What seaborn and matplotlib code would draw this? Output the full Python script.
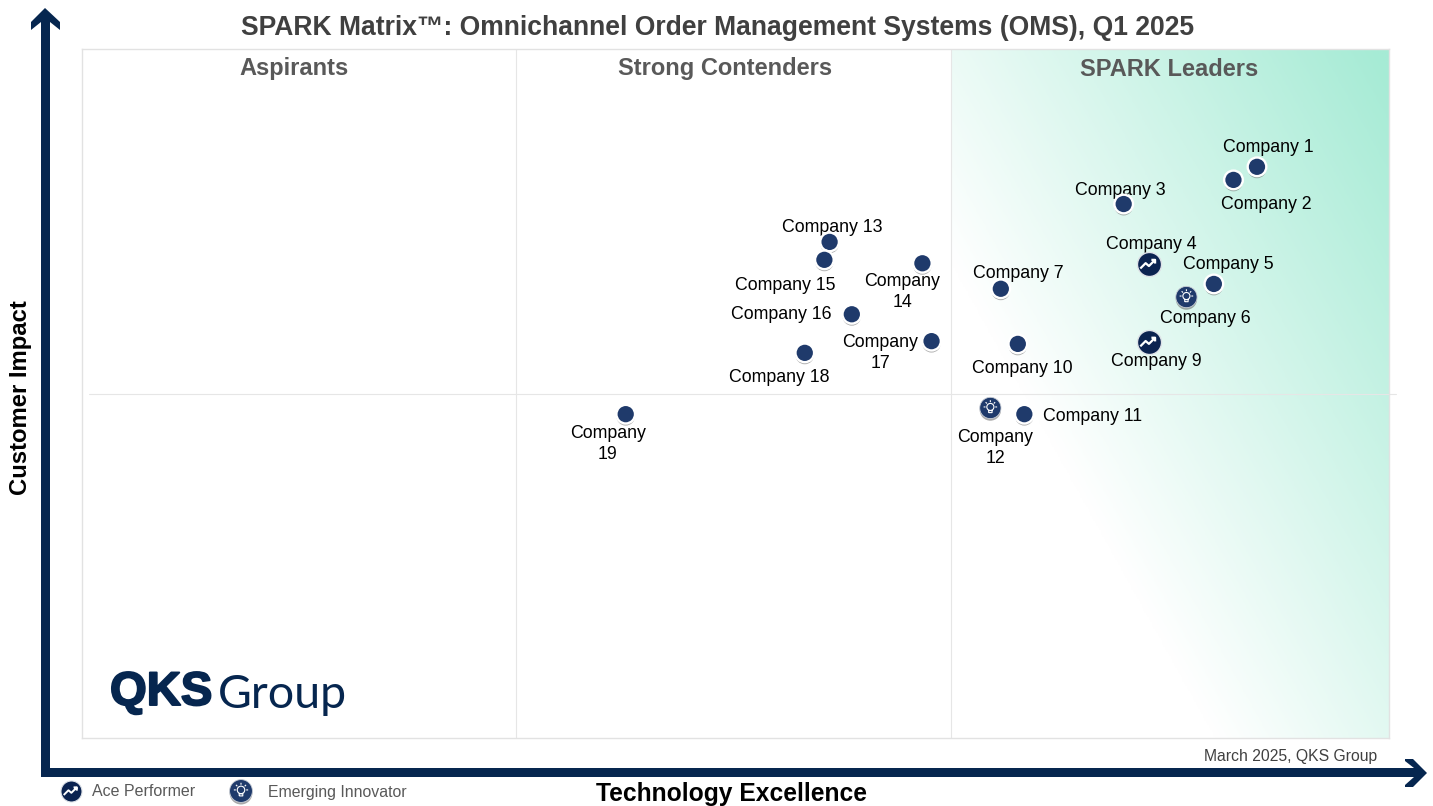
import numpy as np
import pandas as pd
import matplotlib.pyplot as plt
import seaborn as sns
from matplotlib.colors import LinearSegmentedColormap
from matplotlib.patches import Polygon
from matplotlib.path import Path
from matplotlib.transforms import Affine2D
import matplotlib.patheffects as pe

companies = ['Company 1', 'Company 2', 'Company 3', 'Company 4', 'Company 5', 'Company 6',
             'Company 7', 'Company 9', 'Company 10', 'Company 11', 'Company\n12', 'Company 13',
             'Company\n14', 'Company 15', 'Company 16', 'Company\n17', 'Company 18', 'Company\n19']
technology = [8.99, 8.81, 7.97, 8.16, 8.66, 8.45, 7.03, 8.16, 7.16, 7.21, 6.95, 5.72,
              6.43, 5.68, 5.89, 6.50, 5.53, 4.16]
impact = [8.29, 8.10, 7.75, 6.88, 6.59, 6.40, 6.52, 5.75, 5.72, 4.70, 4.79, 7.20,
          6.89, 6.94, 6.15, 5.76, 5.59, 4.70]
tiers = ['Regular', 'Regular', 'Regular', 'Ace', 'Regular', 'Innovator',
         'Regular', 'Ace', 'Regular', 'Regular', 'Innovator', 'Regular',
         'Regular', 'Regular', 'Regular', 'Regular', 'Regular', 'Regular']
quadrants = ['Aspirants', 'Strong Contenders', 'SPARK Leaders']
split_x = [3.32, 6.65]
split_y = 4.99

# label offsets from each point, in pixels
label_dx = [11, 33, -3, 3, 14, 19, 17, 8, 5, 68, 5, 3, -20, -39, -71, -51, -26, -18]
label_dy = [-19, 25, -14, -19, -19, 21, -15, 20, 25, 2, 40, -14, 29, 26, 0, 12, 25, 30]

NAVY = '#06264f'
DOT = '#1f3a6b'
ACE = '#0b2350'

sns.set_theme(style='white')
plt.rcParams['font.family'] = ['Liberation Sans', 'DejaVu Sans']

df = pd.DataFrame({'company': companies, 'technology': technology, 'impact': impact, 'tier': tiers})

fig = plt.figure(figsize=(14.33, 8.06), dpi=100)
W, H = 1433, 806
ax = fig.add_axes([82 / W, 1 - 738 / H, (1389 - 82) / W, (738 - 49) / H])
ax.set_xlim(0, 10)
ax.set_ylim(0, 10)

# green corner behind the leaders quadrant
u, v = np.meshgrid(np.linspace(0, 1, 300), np.linspace(1, 0, 300))
shade = np.clip(0.8 * u + 0.7 * v - 0.48, 0, 1)
cmap = LinearSegmentedColormap.from_list('leaders', ['#ffffff', '#a6ebd5'])
ax.imshow(shade, cmap=cmap, vmin=0, vmax=1, extent=(split_x[1], 10, 0, 10), aspect='auto', zorder=0)
ax.set_xlim(0, 10)
ax.set_ylim(0, 10)

for s in ax.spines.values():
    s.set_color('#e2e2e2')
    s.set_linewidth(1.0)
ax.set_xticks([])
ax.set_yticks([])
for x in split_x:
    ax.axvline(x, color='#e6e6e6', lw=0.8, zorder=1)
ax.plot([0.05, 10.05], [split_y, split_y], color='#e6e6e6', lw=0.8, zorder=1, clip_on=False)

shadow = [pe.SimplePatchShadow(offset=(0, -1.5), shadow_rgbFace='#555555', alpha=0.5), pe.Normal()]


def zigzag_marker():
    verts = [(-1, -0.55), (-0.35, 0.1), (0.05, -0.25), (0.8, 0.5), (0.35, 0.5), (0.8, 0.5), (0.8, 0.05)]
    codes = [Path.MOVETO] + [Path.LINETO] * 3 + [Path.MOVETO] + [Path.LINETO] * 2
    return Path(verts, codes)


def bulb_marker():
    parts = [Path.unit_circle().transformed(Affine2D().scale(0.42).translate(0, 0.12))]
    parts.append(Path([(-0.2, -0.55), (0.2, -0.55), (0.2, -0.3), (-0.2, -0.3), (-0.2, -0.55)]))
    for a in np.radians([0, 45, 90, 135, 180]):
        parts.append(Path([(0.58 * np.cos(a), 0.12 + 0.58 * np.sin(a)),
                           (0.8 * np.cos(a), 0.12 + 0.8 * np.sin(a))]))
    return Path.make_compound_path(*parts)


# plain markers
sns.scatterplot(data=df[df.tier == 'Regular'], x='technology', y='impact', ax=ax, s=180, color=DOT,
                edgecolor='white', linewidth=1.7, zorder=4, legend=False)
ax.collections[-1].set_path_effects(shadow)
sns.scatterplot(data=df[df.tier == 'Ace'], x='technology', y='impact', ax=ax, s=300, color=ACE,
                edgecolor='#dfe3e8', linewidth=1.0, zorder=4, legend=False)
sns.scatterplot(data=df[df.tier == 'Innovator'], x='technology', y='impact', ax=ax, s=235, color=DOT,
                edgecolor='#c9ced6', linewidth=0.6, zorder=4, legend=False)
ax.collections[-1].set_path_effects(shadow)

ace = df[df.tier == 'Ace']
inn = df[df.tier == 'Innovator']
ax.scatter(ace.technology, ace.impact, marker=zigzag_marker(), s=140, facecolors='none',
           edgecolors='white', linewidths=1.6, zorder=5)
ax.scatter(inn.technology, inn.impact, marker=bulb_marker(), s=125, facecolors='none',
           edgecolors='white', linewidths=0.8, zorder=5)
ax.set_xlabel('')
ax.set_ylabel('')

for name, x, y, dx, dy in zip(companies, technology, impact, label_dx, label_dy):
    ax.annotate(name, (x, y), xytext=(dx * 0.72, -dy * 0.72), textcoords='offset points', ha='center',
                va='center', fontsize=12.75, color='black', zorder=3, linespacing=1.32)

# page furniture, in pixel coordinates
page = fig.add_axes([0, 0, 1, 1], facecolor='none')
page.set_xlim(0, W)
page.set_ylim(H, 0)
page.axis('off')

page.add_patch(Polygon([(41, 777), (41, 22), (31, 30), (31, 22), (45, 8), (60, 22), (60, 30), (50, 22),
                        (50, 768), (1414, 768), (1405, 761), (1405, 759), (1413, 759), (1427, 773),
                        (1413, 787), (1405, 787), (1405, 785), (1414, 777)], closed=True, fc=NAVY, ec='none'))

page.text(718, 28, 'SPARK Matrix\u2122: Omnichannel Order Management Systems (OMS), Q1 2025', ha='center',
          va='center', fontsize=19.1, fontweight='bold', color='#404040')
for name, x in zip(quadrants, [294, 725, 1169]):
    page.text(x, 69, name, ha='center', va='center', fontsize=17.0, fontweight='bold', color='#595959')
page.text(20.5, 398, 'Customer Impact', rotation=90, ha='center', va='center', fontsize=17.2,
          fontweight='bold', color='black')
page.text(732, 794, 'Technology Excellence', ha='center', va='center', fontsize=17.7, fontweight='bold',
          color='black')
page.text(1377, 756, 'March 2025, QKS Group', ha='right', va='center', fontsize=11.35, color='#404040')

page.text(110, 693, 'QKS', ha='left', va='center', fontsize=34, fontweight='bold', color=NAVY,
          path_effects=[pe.withStroke(linewidth=1.4, foreground=NAVY)])
page.text(218, 695, 'Group', ha='left', va='center', fontsize=33.5, family='Lato', color=NAVY)

# legend
page.scatter([71], [791], s=230, color=ACE, edgecolor='#dfe3e8', linewidth=0.8)
page.scatter([71], [791], marker=zigzag_marker(), s=110, facecolors='none', edgecolors='white', linewidths=1.4)
page.scatter([241], [791], s=270, color=DOT, edgecolor='#c9ced6', linewidth=0.6).set_path_effects(shadow)
page.scatter([241], [791], marker=bulb_marker(), s=140, facecolors='none', edgecolors='white', linewidths=0.8)
page.set_xlim(0, W)
page.set_ylim(H, 0)
page.text(92, 792, 'Ace Performer', ha='left', va='center', fontsize=11.5, color='#595959')
page.text(268, 792, 'Emerging Innovator', ha='left', va='center', fontsize=11.4, color='#595959')

fig.savefig('out.png', dpi=100)
